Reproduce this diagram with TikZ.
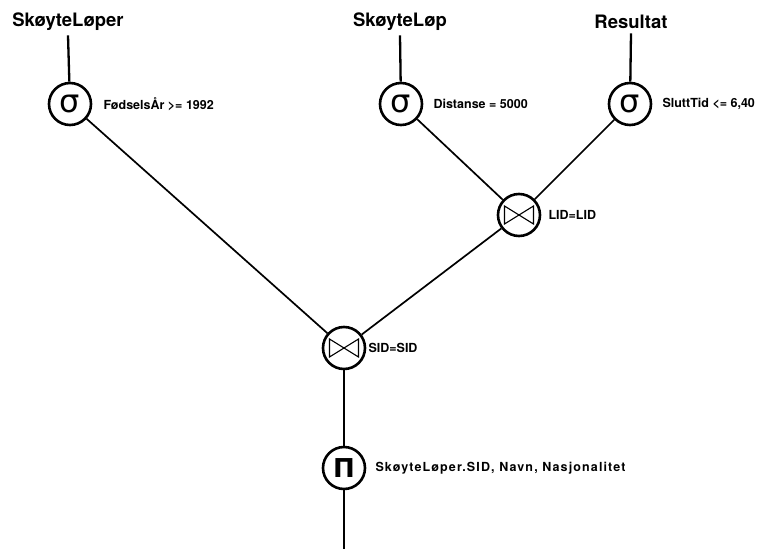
\documentclass[tikz,border=0pt]{standalone}
\usepackage{fontspec}
\setmainfont{TeX Gyre Heros}
\newfontfamily\greekfont{DejaVu Sans}
\begin{document}
\begin{tikzpicture}[x=1pt,y=-1pt,
  op/.style={circle,draw,line width=2.6pt,minimum size=42pt,inner sep=0pt},
  rel/.style={font=\fontsize{18.5}{20}\selectfont\bfseries},
  cond/.style={font=\fontsize{12.5}{14}\selectfont\bfseries,anchor=west},
  sym/.style={font=\greekfont\fontsize{32}{32}\selectfont},
  edge/.style={line width=1.7pt},
  top/.style={line width=2.3pt}]
\useasboundingbox (0,0) rectangle (761,549);

% relations
\node[rel] (r1) at (68,22) {SkøyteLøper};
\node[rel] (r2) at (400,22) {SkøyteLøp};
\node[rel] (r3) at (631,22) {Resultat};

% selections
\node[op,sym] (s1) at (70,104) {\raisebox{1pt}{σ}};
\node[op,sym] (s2) at (401,104) {\raisebox{1pt}{σ}};
\node[op,sym] (s3) at (630,104) {\raisebox{1pt}{σ}};
\node[cond] at (100,104) {FødselsÅr >= 1992};
\node[cond] at (430,104) {Distanse = 5000};
\node[cond] at (659,104) {SluttTid <= 6,40};

% joins
\node[op] (j1) at (519,215) {};
\node[op] (j2) at (344,348) {};
\node[cond] at (545,215) {LID=LID};
\node[cond] at (365,348) {SID=SID};
\foreach \j in {j1,j2}{
  \draw[line width=1.1pt,line join=miter]
    ([xshift=-14.5pt,yshift=-9pt]\j.center) -- ([xshift=-14.5pt,yshift=9pt]\j.center)
    -- ([xshift=14.5pt,yshift=-9pt]\j.center) -- ([xshift=14.5pt,yshift=9pt]\j.center)
    -- cycle;
}

% projection
\node[op] (p) at (344,468) {\greekfont\bfseries\fontsize{26}{26}\selectfont Π};
\node[cond] at (372,468) {\addfontfeature{LetterSpace=9}SkøyteLøper.SID, Navn, Nasjonalitet};
\coordinate (out) at (344,549);

% edges
\draw[top] (r1.south) ++(0,1) -- (s1);
\draw[top] (r2.south) ++(0,1) -- (s2);
\draw[top] (r3.south) ++(0,1) -- (s3);
\draw[edge] (s1) -- (j2);
\draw[edge] (s2) -- (j1);
\draw[edge] (s3) -- (j1);
\draw[edge] (j1) -- (j2);
\draw[edge] (j2) -- (p);
\draw[edge] (p) -- (out);
\end{tikzpicture}
\end{document}
